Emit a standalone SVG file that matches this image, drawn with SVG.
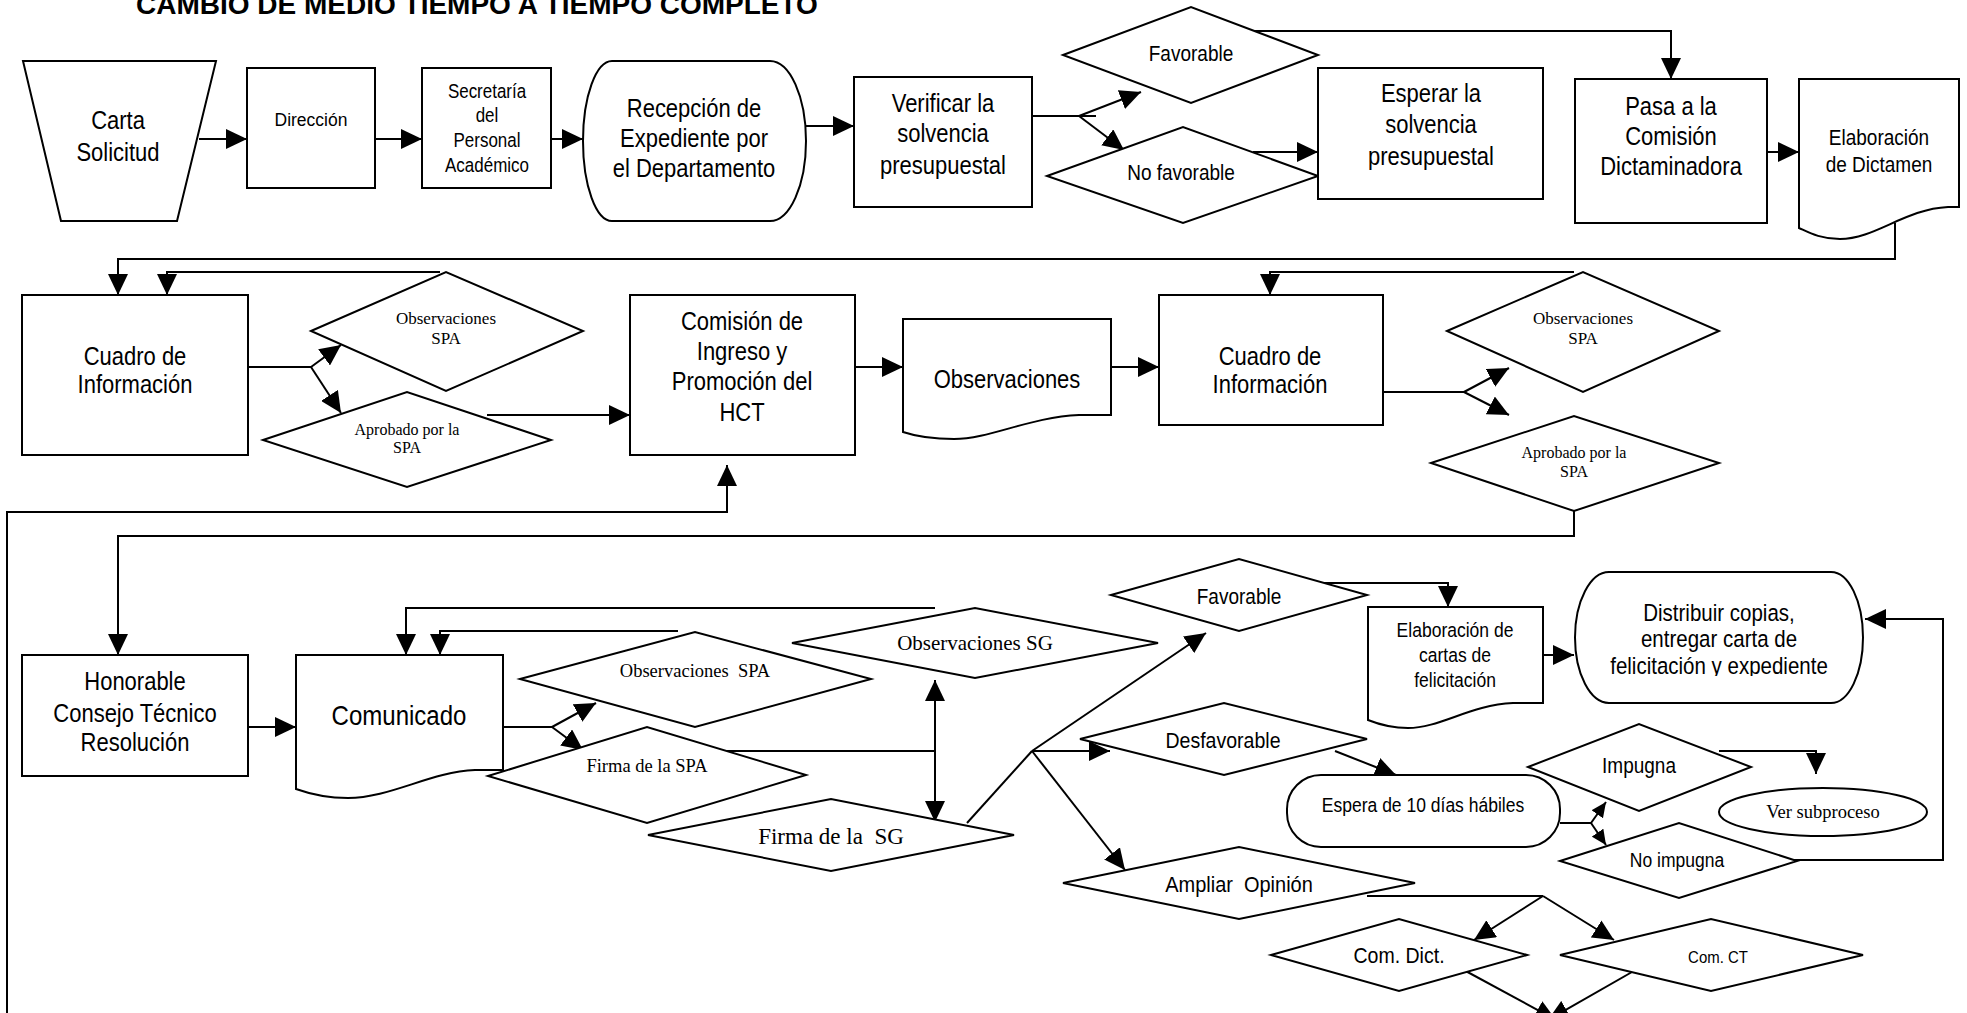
<svg xmlns="http://www.w3.org/2000/svg" width="1967" height="1013" viewBox="0 0 1967 1013">
<style>
.s{fill:#fff;stroke:#000;stroke-width:2}
.c{fill:none;stroke:#000;stroke-width:2}
.a{marker-end:url(#ah)}
.b{marker-end:url(#ahs)}
text{fill:#000;text-anchor:middle;white-space:pre}
.t{font-family:"Liberation Sans",Arial,sans-serif}
.r{font-family:"Liberation Serif","Times New Roman",serif}
</style>
<defs>
<marker id="ah" markerUnits="userSpaceOnUse" markerWidth="22" markerHeight="20" refX="21" refY="10" orient="auto-start-reverse"><path d="M0,0 L21,10 L0,20 z" fill="#000"/></marker>
<marker id="ahs" markerUnits="userSpaceOnUse" markerWidth="16" markerHeight="14" refX="15" refY="7" orient="auto"><path d="M0,0 L15,7 L0,14 z" fill="#000"/></marker>
<clipPath id="clipD"><rect x="-200" y="560" width="400" height="116"/></clipPath>
</defs>
<rect width="1967" height="1013" fill="#fff"/>
<text x="136" y="14" font-family="Liberation Sans,Arial,sans-serif" font-weight="bold" font-size="28" style="text-anchor:start">CAMBIO DE MEDIO TIEMPO A TIEMPO COMPLETO</text>

<g id="connectors">
<path class="c a" d="M199,139 H247"/>
<path class="c a" d="M375,139 H422"/>
<path class="c a" d="M551,139 H583"/>
<path class="c a" d="M806,126 H854"/>
<path class="c" d="M1032,116 H1096"/>
<path class="c a" d="M1079,116 L1141,92"/>
<path class="c a" d="M1079,116 L1124,150"/>
<path class="c a" d="M1253,152 H1318"/>
<path class="c a" d="M1239,31 H1671 V79"/>
<path class="c a" d="M1767,152 H1799"/>
<path class="c a" d="M1895,223 V259 H118 V295"/>
<path class="c a" d="M440,272 H167 V295"/>
<path class="c" d="M248,367 H311"/>
<path class="c a" d="M311,367 L341,345"/>
<path class="c a" d="M311,367 L341,413"/>
<path class="c a" d="M487,415 H630"/>
<path class="c a" d="M855,367 H903"/>
<path class="c a" d="M1111,367 H1159"/>
<path class="c a" d="M1574,272 H1270 V295"/>
<path class="c" d="M1383,392 H1464"/>
<path class="c a" d="M1464,392 L1509,368"/>
<path class="c a" d="M1464,392 L1509,415"/>
<path class="c a" d="M1574,511 V536 H118 V655"/>
<path class="c a" d="M7,1013 V512 H727 V465"/>
<path class="c a" d="M248,727 H296"/>
<path class="c a" d="M935,608 H406 V655"/>
<path class="c a" d="M678,631 H440 V655"/>
<path class="c" d="M503,727 H552"/>
<path class="c a" d="M552,727 L596,703"/>
<path class="c a" d="M552,727 L583,750"/>
<path class="c" d="M727,751 H935"/>
<path class="c a" d="M935,822 V680" style="marker-start:url(#ah)"/>
<path class="c" d="M967,823 L1032,751"/>
<path class="c a" d="M1032,751 L1206,633"/>
<path class="c a" d="M1032,751 H1110"/>
<path class="c a" d="M1032,751 L1125,870"/>
<path class="c a" d="M1319,583 H1448 V607"/>
<path class="c a" d="M1543,655 H1574"/>
<path class="c a" d="M1335,751 L1396,775"/>
<path class="c" d="M1560,823 H1591"/>
<path class="c b" d="M1591,823 L1606,802"/>
<path class="c b" d="M1591,823 L1606,845"/>
<path class="c a" d="M1719,751 H1816 V774"/>
<path class="c a" d="M1767,860 H1943 V619 H1865"/>
<path class="c" d="M1367,896 H1543"/>
<path class="c a" d="M1543,896 L1474,940"/>
<path class="c a" d="M1543,896 L1614,940"/>
<path class="c a" d="M1462,969 L1556,1020"/>
<path class="c a" d="M1639,968 L1548,1020"/>
</g>

<g id="carta"><polygon class="s" points="23,61 216,61 177,221 61,221"/>
<g transform="translate(118 0) scale(.88 1)"><text class="t" font-size="25" x="0" y="129">Carta</text><text class="t" font-size="25" x="0" y="161">Solicitud</text></g></g>
<g id="direccion"><rect class="s" x="247" y="68" width="128" height="120"/>
<text class="t" font-size="17.5" x="311" y="126">Dirección</text></g>
<g id="secretaria"><rect class="s" x="422" y="68" width="129" height="120"/>
<g transform="translate(487 0) scale(.88 1)"><text class="t" font-size="19.3" x="0" y="98">Secretaría</text><text class="t" font-size="19.3" x="0" y="122">del</text><text class="t" font-size="19.3" x="0" y="147">Personal</text><text class="t" font-size="19.3" x="0" y="172">Académico</text></g></g>
<g id="recepcion"><path class="s" d="M612,61 H770 A36,80 0 0 1 770,221 H612 A29,80 0 0 1 612,61 Z"/>
<g transform="translate(694 0) scale(.88 1)"><text class="t" font-size="25" x="0" y="117">Recepción de</text><text class="t" font-size="25" x="0" y="147">Expediente por</text><text class="t" font-size="25" x="0" y="177">el Departamento</text></g></g>
<g id="verificar"><rect class="s" x="854" y="77" width="178" height="130"/>
<g transform="translate(943 0) scale(.88 1)"><text class="t" font-size="25" x="0" y="112">Verificar la</text><text class="t" font-size="25" x="0" y="142">solvencia</text><text class="t" font-size="25" x="0" y="174">presupuestal</text></g></g>
<g id="favorable1"><polygon class="s" points="1063,55 1191,7 1318,55 1191,103"/>
<text class="t" font-size="21.6" transform="translate(1191 0) scale(.88 1)" x="0" y="61">Favorable</text></g>
<g id="nofavorable1"><polygon class="s" points="1047,176 1183,127 1318,176 1183,223"/>
<text class="t" font-size="21.6" transform="translate(1181 0) scale(.88 1)" x="0" y="180">No favorable</text></g>
<g id="esperar"><rect class="s" x="1318" y="68" width="225" height="131"/>
<g transform="translate(1431 0) scale(.88 1)"><text class="t" font-size="25" x="0" y="102">Esperar la</text><text class="t" font-size="25" x="0" y="133">solvencia</text><text class="t" font-size="25" x="0" y="165">presupuestal</text></g></g>
<g id="pasa"><rect class="s" x="1575" y="79" width="192" height="144"/>
<g transform="translate(1671 0) scale(.88 1)"><text class="t" font-size="25" x="0" y="115">Pasa a la</text><text class="t" font-size="25" x="0" y="145">Comisión</text><text class="t" font-size="25" x="0" y="175">Dictaminadora</text></g></g>
<g id="dictamen"><path class="s" d="M1799,79 H1959 V207 H1948 C1905,209 1875,239 1840,239 C1820,239 1808,232 1799,228 Z"/>
<g transform="translate(1879 0) scale(.88 1)"><text class="t" font-size="21.6" x="0" y="145">Elaboración</text><text class="t" font-size="21.6" x="0" y="172">de Dictamen</text></g></g>

<g id="cuadro1"><rect class="s" x="22" y="295" width="226" height="160"/>
<g transform="translate(135 0) scale(.88 1)"><text class="t" font-size="25" x="0" y="365">Cuadro de</text><text class="t" font-size="25" x="0" y="393">Información</text></g></g>
<g id="obsspa1"><polygon class="s" points="311,331 446,272 583,331 446,391"/>
<text class="r" font-size="17" x="446" y="324">Observaciones</text><text class="r" font-size="17" x="446" y="344">SPA</text></g>
<g id="aprobado1"><polygon class="s" points="263,440 407,392 551,440 407,487"/>
<text class="r" font-size="16" x="407" y="435">Aprobado por la</text><text class="r" font-size="16" x="407" y="453">SPA</text></g>
<g id="comision"><rect class="s" x="630" y="295" width="225" height="160"/>
<g transform="translate(742 0) scale(.88 1)"><text class="t" font-size="25" x="0" y="330">Comisión de</text><text class="t" font-size="25" x="0" y="360">Ingreso y</text><text class="t" font-size="25" x="0" y="390">Promoción del</text><text class="t" font-size="25" x="0" y="421">HCT</text></g></g>
<g id="observaciones"><path class="s" d="M903,319 H1111 V415 H1079 C1030,417 990,439 954,439 C930,439 915,436 903,432 Z"/>
<text class="t" font-size="25" transform="translate(1007 0) scale(.88 1)" x="0" y="388">Observaciones</text></g>
<g id="cuadro2"><rect class="s" x="1159" y="295" width="224" height="130"/>
<g transform="translate(1270 0) scale(.88 1)"><text class="t" font-size="25" x="0" y="365">Cuadro de</text><text class="t" font-size="25" x="0" y="393">Información</text></g></g>
<g id="obsspa2"><polygon class="s" points="1447,331 1583,272 1719,331 1583,392"/>
<text class="r" font-size="17" x="1583" y="324">Observaciones</text><text class="r" font-size="17" x="1583" y="344">SPA</text></g>
<g id="aprobado2"><polygon class="s" points="1431,463 1574,416 1719,463 1574,511"/>
<text class="r" font-size="16" x="1574" y="458">Aprobado por la</text><text class="r" font-size="16" x="1574" y="477">SPA</text></g>

<g id="honorable"><rect class="s" x="22" y="655" width="226" height="121"/>
<g transform="translate(135 0) scale(.88 1)"><text class="t" font-size="25" x="0" y="690">Honorable</text><text class="t" font-size="25" x="0" y="722">Consejo Técnico</text><text class="t" font-size="25" x="0" y="751">Resolución</text></g></g>
<g id="comunicado"><path class="s" d="M296,655 H503 V770 H475 C430,772 390,798 348,798 C325,798 310,794 296,789 Z"/>
<text class="t" font-size="27.3" transform="translate(399 0) scale(.88 1)" x="0" y="725">Comunicado</text></g>
<g id="obsspa3"><polygon class="s" points="520,679 695,632 871,679 695,727"/>
<text class="r" font-size="18.5" x="695" y="677">Observaciones  SPA</text></g>
<g id="firmaspa"><polygon class="s" points="488,776 647,727 806,775 647,823"/>
<text class="r" font-size="18.5" x="647" y="772">Firma de la SPA</text></g>
<g id="obssg"><polygon class="s" points="792,643 975,608 1158,643 975,678"/>
<text class="r" font-size="21" x="975" y="650">Observaciones SG</text></g>
<g id="firmasg"><polygon class="s" points="648,835 831,799 1014,835 831,871"/>
<text class="r" font-size="23" x="831" y="844">Firma de la  SG</text></g>
<g id="favorable2"><polygon class="s" points="1111,595 1239,559 1367,595 1239,631"/>
<text class="t" font-size="21.6" transform="translate(1239 0) scale(.88 1)" x="0" y="604">Favorable</text></g>
<g id="desfavorable"><polygon class="s" points="1080,739 1224,703 1367,739 1224,775"/>
<text class="t" font-size="22.2" transform="translate(1223 0) scale(.88 1)" x="0" y="748">Desfavorable</text></g>
<g id="ampliar"><polygon class="s" points="1063,883 1239,847 1415,883 1239,919"/>
<text class="t" font-size="22.7" transform="translate(1239 0) scale(.88 1)" x="0" y="892">Ampliar  Opinión</text></g>
<g id="cartas"><path class="s" d="M1368,607 H1543 V703 H1513 C1470,705 1440,728 1408,728 C1390,728 1378,724 1368,720 Z"/>
<g transform="translate(1455 0) scale(.88 1)"><text class="t" font-size="19.9" x="0" y="637">Elaboración de</text><text class="t" font-size="19.9" x="0" y="662">cartas de</text><text class="t" font-size="19.9" x="0" y="687">felicitación</text></g></g>
<g id="distribuir"><path class="s" d="M1609,572 H1831 A32,65.5 0 0 1 1831,703 H1609 A34,65.5 0 0 1 1609,572 Z"/>
<g transform="translate(1719 0) scale(.88 1)"><text class="t" font-size="23.3" x="0" y="621">Distribuir copias,</text><text class="t" font-size="23.3" x="0" y="647">entregar carta de</text><text class="t" font-size="23.3" x="0" y="674" clip-path="url(#clipD)">felicitación y expediente</text></g></g>
<g id="espera"><rect class="s" x="1287" y="775" width="273" height="72" rx="34" ry="34"/>
<text class="t" font-size="19.9" transform="translate(1423 0) scale(.88 1)" x="0" y="812">Espera de 10 días hábiles</text></g>
<g id="impugna"><polygon class="s" points="1528,767 1639,724 1751,767 1639,811"/>
<text class="t" font-size="21.6" transform="translate(1639 0) scale(.88 1)" x="0" y="773">Impugna</text></g>
<g id="versub"><ellipse class="s" cx="1823" cy="812" rx="104" ry="24"/>
<text class="r" font-size="18.5" x="1823" y="818">Ver subproceso</text></g>
<g id="noimpugna"><polygon class="s" points="1560,861 1679,823 1797,861 1679,898"/>
<text class="t" font-size="19.9" transform="translate(1677 0) scale(.88 1)" x="0" y="867">No impugna</text></g>
<g id="comdict"><polygon class="s" points="1271,955 1399,919 1527,955 1399,991"/>
<text class="t" font-size="22.2" transform="translate(1399 0) scale(.88 1)" x="0" y="963">Com. Dict.</text></g>
<g id="comct"><polygon class="s" points="1560,955 1711,919 1863,955 1711,991"/>
<text class="t" font-size="17" transform="translate(1718 0) scale(.88 1)" x="0" y="963">Com. CT</text></g>
</svg>
